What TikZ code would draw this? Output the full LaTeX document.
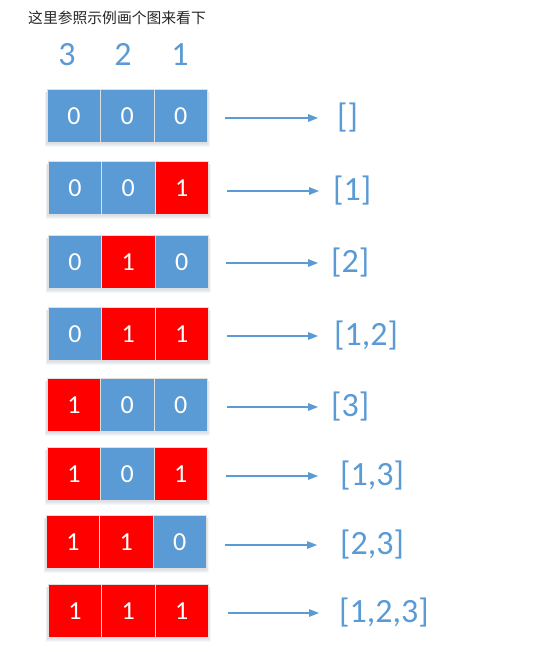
\documentclass[tikz,border=0pt]{standalone}
\usepackage{fontspec}
\setmainfont{Carlito}
\newfontfamily\cjk{Noto Sans CJK SC}
\usetikzlibrary{arrows.meta}
\definecolor{cblue}{HTML}{5B9BD5}
\definecolor{cred}{HTML}{FF0000}
\definecolor{shd}{HTML}{4A6A8A}
\begin{document}
\begin{tikzpicture}[x=1pt,y=-1pt,
  rowbox/.style={minimum width=160pt, minimum height=53pt, inner sep=0pt, anchor=north west},
  cell/.style={minimum width=53.33pt, minimum height=53pt, inner sep=0pt, draw=gray!25, line width=0.6pt,
    text=white, font=\fontsize{26}{26}\selectfont, anchor=north west},
  b0/.style={cell, fill=cblue},
  b1/.style={cell, fill=cred},
  lbl/.style={text=cblue, font=\fontsize{34}{34}\selectfont, inner sep=0pt, anchor=west},
  hdr/.style={text=cblue, font=\fontsize{34}{34}\selectfont, inner sep=0pt},
  arr/.style={draw=cblue, line width=1.4pt, -{Triangle[length=10pt,width=7.5pt]}},
  shadowlayer/.style={fill=shd, fill opacity=0.05}
]
\fill[white] (0,0) rectangle (545,652);
\useasboundingbox (0,0) rectangle (545,652);
\node[anchor=west, inner sep=0pt, font=\cjk\fontsize{14.8}{15}\selectfont, text=black!85] (title) at (28,18) {这里参照示例画个图来看下};
\node[hdr] (h3) at (67,54.5) {3};
\node[hdr] (h2) at (123,54.5) {2};
\node[hdr] (h1) at (180,54.5) {1};
\foreach \r/\x/\y/\a/\b/\c/\ay/\ax/\bx/\lx/\txt in {
  1/47/89/0/0/0/118/225/318/337/{[]},
  2/48/161/0/0/1/191/227/319/333/{[1]},
  3/48/235/0/1/0/263/226/318/331/{[2]},
  4/48/307/0/1/1/336/227/318/334/{[1,2]},
  5/47/378/1/0/0/407/227/318/331/{[3]},
  6/47/447/1/0/1/476/226/318/340/{[1,3]},
  7/46/515/1/1/0/545/225/317/340/{[2,3]},
  8/48/584/1/1/1/613/228/319/339/{[1,2,3]}}{
  \node[rowbox] (r\r) at (\x,\y) {};
  \foreach \k in {1,...,5}{
    \fill[shadowlayer] ([xshift=-0.5*\k pt, yshift=-3pt]r\r.north west) rectangle ([xshift=0.5*\k pt, yshift=-\k pt]r\r.south east);
  }
  \node[b\a] (c\r a) at (\x,\y) {\a};
  \node[b\b] (c\r b) at (\x+53.33,\y) {\b};
  \node[b\c] (c\r c) at (\x+106.67,\y) {\c};
  \node[lbl] (l\r) at (\lx,\ay) {\txt};
  \coordinate (s\r) at (\ax,\ay);
  \coordinate (e\r) at (\bx,\ay);
  \draw[arr] (s\r) -- (e\r);
}
\end{tikzpicture}
\end{document}
